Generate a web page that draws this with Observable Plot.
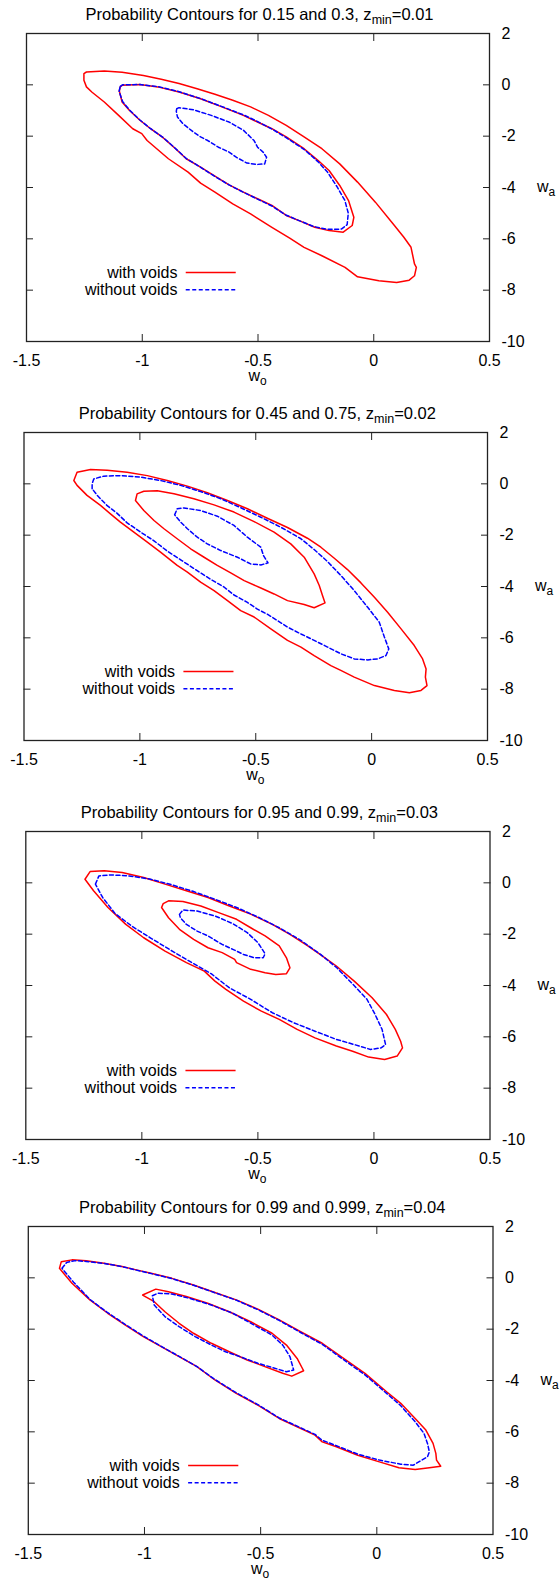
<!DOCTYPE html>
<html><head><meta charset="utf-8">
<script src="https://cdn.jsdelivr.net/npm/d3@7"></script>
<script src="https://cdn.jsdelivr.net/npm/@observablehq/plot@0.6"></script>
<style>
html,body{margin:0;padding:0;background:#fff;overflow:hidden}
#root{position:relative;width:560px;height:1581px;background:#fff}
.panel{position:absolute;left:0}
</style></head><body><div id="root"></div>
<script>
// ---------- tick values ----------
const xTicks = [-1.5, -1, -0.5, 0, 0.5];
const yTicks = [2, 0, -2, -4, -6, -8, -10];
const xInnerTicks = [-1, -0.5, 0];
const yInnerTicks = [0, -2, -4, -6, -8];

// ---------- titles ----------
const titleLevels = ["0.15 and 0.3", "0.45 and 0.75", "0.95 and 0.99", "0.99 and 0.999"];
const titleZmin = ["0.01", "0.02", "0.03", "0.04"];
const seriesNames = ["with voids", "without voids"];

// ---------- panel 1 contours (w0, wa) ----------
const p1WithOuter = [[-1.252,0.44],[-1.241,0.50],[-1.164,0.54],[-1.087,0.49],[-0.995,0.36],[-0.918,0.22],[-0.841,0.05],[-0.763,-0.15],[-0.686,-0.37],[-0.609,-0.60],[-0.532,-0.86],[-0.455,-1.19],[-0.378,-1.58],[-0.301,-2.03],[-0.224,-2.49],[-0.147,-3.08],[-0.070,-3.79],[0.007,-4.57],[0.084,-5.42],[0.130,-5.94],[0.161,-6.33],[0.176,-6.98],[0.184,-7.11],[0.176,-7.44],[0.153,-7.61],[0.099,-7.70],[0.022,-7.63],[-0.070,-7.48],[-0.124,-7.11],[-0.224,-6.66],[-0.301,-6.33],[-0.363,-5.97],[-0.440,-5.55],[-0.532,-5.03],[-0.609,-4.64],[-0.686,-4.18],[-0.748,-3.83],[-0.802,-3.40],[-0.887,-2.88],[-0.979,-2.17],[-1.002,-1.90],[-1.041,-1.71],[-1.102,-1.19],[-1.164,-0.67],[-1.218,-0.28],[-1.241,-0.08],[-1.252,0.18]];
const p1WithInner = [[-1.095,-0.08],[-1.087,-0.02],[-1.010,0.01],[-0.933,-0.08],[-0.841,-0.28],[-0.748,-0.54],[-0.656,-0.86],[-0.563,-1.19],[-0.502,-1.45],[-0.440,-1.71],[-0.378,-2.03],[-0.301,-2.49],[-0.240,-2.95],[-0.193,-3.34],[-0.147,-3.92],[-0.109,-4.51],[-0.086,-5.16],[-0.093,-5.48],[-0.132,-5.74],[-0.193,-5.68],[-0.255,-5.55],[-0.317,-5.31],[-0.378,-5.09],[-0.440,-4.70],[-0.502,-4.44],[-0.563,-4.18],[-0.625,-3.90],[-0.686,-3.56],[-0.748,-3.21],[-0.810,-2.88],[-0.856,-2.49],[-0.910,-2.06],[-0.964,-1.71],[-1.010,-1.38],[-1.056,-0.99],[-1.087,-0.67],[-1.099,-0.24]];
const p1WithoutOuter = [[-1.095,-0.06],[-1.085,0.0],[-1.01,0.01],[-0.93,-0.07],[-0.84,-0.27],[-0.75,-0.53],[-0.655,-0.85],[-0.56,-1.18],[-0.50,-1.44],[-0.44,-1.72],[-0.38,-2.05],[-0.30,-2.52],[-0.24,-3.0],[-0.20,-3.4],[-0.16,-3.95],[-0.125,-4.5],[-0.11,-5.0],[-0.115,-5.45],[-0.14,-5.62],[-0.2,-5.63],[-0.26,-5.52],[-0.32,-5.3],[-0.38,-5.07],[-0.44,-4.72],[-0.50,-4.46],[-0.56,-4.2],[-0.625,-3.9],[-0.69,-3.55],[-0.75,-3.2],[-0.81,-2.87],[-0.86,-2.45],[-0.91,-2.05],[-0.965,-1.7],[-1.01,-1.37],[-1.055,-0.98],[-1.085,-0.65],[-1.1,-0.25]];
const p1WithoutInner = [[-0.851,-0.93],[-0.841,-0.89],[-0.779,-0.97],[-0.702,-1.19],[-0.625,-1.45],[-0.563,-1.77],[-0.517,-2.17],[-0.502,-2.43],[-0.478,-2.62],[-0.463,-2.82],[-0.471,-3.08],[-0.502,-3.10],[-0.548,-3.05],[-0.594,-2.82],[-0.625,-2.62],[-0.671,-2.43],[-0.717,-2.17],[-0.748,-2.03],[-0.779,-1.84],[-0.825,-1.51],[-0.848,-1.25],[-0.853,-1.03]];

// ---------- panel 2 ----------
const p2WithOuter = [[-1.285,0.13],[-1.271,0.45],[-1.213,0.56],[-1.141,0.53],[-1.055,0.45],[-0.968,0.32],[-0.882,0.13],[-0.795,-0.09],[-0.709,-0.35],[-0.622,-0.65],[-0.536,-0.97],[-0.450,-1.34],[-0.363,-1.70],[-0.277,-2.12],[-0.219,-2.47],[-0.161,-2.90],[-0.104,-3.34],[-0.046,-3.86],[0.012,-4.42],[0.069,-5.00],[0.127,-5.65],[0.184,-6.30],[0.220,-6.82],[0.235,-7.21],[0.232,-7.53],[0.239,-7.86],[0.213,-8.05],[0.163,-8.14],[0.098,-8.05],[0.012,-7.86],[-0.075,-7.53],[-0.133,-7.27],[-0.176,-7.08],[-0.248,-6.69],[-0.305,-6.36],[-0.363,-6.10],[-0.435,-5.65],[-0.507,-5.19],[-0.565,-4.94],[-0.622,-4.55],[-0.680,-4.16],[-0.738,-3.83],[-0.795,-3.44],[-0.839,-3.18],[-0.911,-2.66],[-0.968,-2.27],[-1.026,-1.88],[-1.084,-1.49],[-1.127,-1.17],[-1.170,-0.84],[-1.228,-0.45],[-1.271,-0.06]];
const p2WithInner = [[-1.019,-0.65],[-1.012,-0.39],[-0.983,-0.29],[-0.925,-0.27],[-0.853,-0.39],[-0.767,-0.58],[-0.680,-0.82],[-0.594,-1.10],[-0.507,-1.47],[-0.421,-1.88],[-0.349,-2.34],[-0.291,-2.86],[-0.248,-3.51],[-0.226,-3.96],[-0.212,-4.35],[-0.201,-4.64],[-0.248,-4.83],[-0.291,-4.70],[-0.363,-4.55],[-0.421,-4.29],[-0.478,-4.06],[-0.550,-3.77],[-0.608,-3.47],[-0.666,-3.18],[-0.723,-2.86],[-0.781,-2.53],[-0.839,-2.14],[-0.896,-1.75],[-0.939,-1.43],[-0.983,-1.04]];
const p2WithoutOuter = [[-1.206,-0.19],[-1.206,0.0],[-1.199,0.19],[-1.156,0.30],[-1.084,0.32],[-0.997,0.26],[-0.911,0.13],[-0.824,-0.06],[-0.738,-0.30],[-0.651,-0.58],[-0.565,-0.93],[-0.478,-1.30],[-0.392,-1.69],[-0.305,-2.14],[-0.248,-2.56],[-0.190,-3.03],[-0.133,-3.57],[-0.075,-4.16],[-0.017,-4.81],[0.033,-5.39],[0.055,-5.97],[0.074,-6.43],[0.062,-6.69],[0.026,-6.82],[-0.017,-6.86],[-0.075,-6.82],[-0.133,-6.62],[-0.190,-6.36],[-0.248,-6.10],[-0.305,-5.85],[-0.363,-5.58],[-0.406,-5.33],[-0.450,-5.08],[-0.493,-4.88],[-0.536,-4.62],[-0.594,-4.33],[-0.637,-4.02],[-0.695,-3.72],[-0.767,-3.30],[-0.824,-2.96],[-0.882,-2.62],[-0.939,-2.22],[-0.997,-1.88],[-1.055,-1.52],[-1.098,-1.15],[-1.141,-0.85],[-1.184,-0.45]];
const p2WithoutInner = [[-0.850,-1.21],[-0.839,-0.97],[-0.810,-0.94],[-0.738,-1.04],[-0.666,-1.26],[-0.594,-1.62],[-0.536,-2.08],[-0.478,-2.47],[-0.467,-2.79],[-0.447,-3.08],[-0.478,-3.16],[-0.522,-3.12],[-0.579,-2.86],[-0.651,-2.60],[-0.709,-2.34],[-0.752,-2.08],[-0.795,-1.75],[-0.824,-1.49]];

// ---------- panel 3 ----------
const p3WithOuter = [[-1.245,0.14],[-1.223,0.44],[-1.162,0.47],[-1.085,0.40],[-0.992,0.21],[-0.900,-0.05],[-0.808,-0.31],[-0.715,-0.57],[-0.623,-0.90],[-0.531,-1.22],[-0.438,-1.62],[-0.362,-2.01],[-0.285,-2.46],[-0.223,-2.85],[-0.162,-3.24],[-0.085,-3.83],[-0.008,-4.48],[0.054,-5.13],[0.092,-5.71],[0.115,-6.17],[0.123,-6.43],[0.100,-6.75],[0.046,-6.88],[-0.023,-6.79],[-0.092,-6.56],[-0.162,-6.36],[-0.254,-6.04],[-0.331,-5.71],[-0.408,-5.32],[-0.485,-5.00],[-0.562,-4.61],[-0.638,-4.15],[-0.685,-3.83],[-0.731,-3.44],[-0.808,-3.11],[-0.900,-2.66],[-0.992,-2.14],[-1.069,-1.62],[-1.146,-0.96],[-1.208,-0.31]];
const p3WithInner = [[-0.915,-0.96],[-0.908,-0.81],[-0.885,-0.70],[-0.823,-0.73],[-0.746,-0.90],[-0.669,-1.16],[-0.592,-1.42],[-0.531,-1.75],[-0.469,-2.07],[-0.408,-2.46],[-0.377,-2.92],[-0.362,-3.31],[-0.377,-3.54],[-0.423,-3.57],[-0.469,-3.50],[-0.531,-3.37],[-0.592,-3.11],[-0.600,-2.98],[-0.654,-2.72],[-0.715,-2.53],[-0.777,-2.20],[-0.838,-1.81],[-0.885,-1.36]];
const p3WithoutOuter = [[-1.200,-0.05],[-1.185,0.27],[-1.131,0.31],[-1.054,0.27],[-0.962,0.14],[-0.869,-0.08],[-0.777,-0.34],[-0.685,-0.64],[-0.592,-0.96],[-0.500,-1.33],[-0.408,-1.75],[-0.315,-2.24],[-0.230,-2.79],[-0.160,-3.31],[-0.090,-3.96],[-0.030,-4.54],[0.005,-5.13],[0.035,-5.71],[0.050,-6.30],[0.031,-6.43],[-0.015,-6.49],[-0.085,-6.30],[-0.162,-6.10],[-0.254,-5.78],[-0.346,-5.45],[-0.438,-5.06],[-0.531,-4.54],[-0.623,-4.09],[-0.700,-3.55],[-0.777,-3.15],[-0.869,-2.66],[-0.962,-2.15],[-1.038,-1.72],[-1.115,-1.20],[-1.169,-0.57]];
const p3WithoutInner = [[-0.838,-1.23],[-0.823,-1.06],[-0.762,-1.10],[-0.685,-1.29],[-0.608,-1.59],[-0.546,-1.94],[-0.500,-2.33],[-0.469,-2.76],[-0.477,-2.92],[-0.515,-2.92],[-0.562,-2.79],[-0.608,-2.59],[-0.654,-2.40],[-0.715,-2.07],[-0.762,-1.88],[-0.808,-1.62],[-0.834,-1.36]];

// ---------- panel 4 ----------
const p4WithOuter = [[-1.366,0.37],[-1.358,0.63],[-1.312,0.70],[-1.251,0.67],[-1.174,0.57],[-1.097,0.44],[-1.035,0.31],[-0.958,0.15],[-0.882,-0.02],[-0.789,-0.28],[-0.697,-0.57],[-0.605,-0.86],[-0.512,-1.22],[-0.420,-1.64],[-0.328,-2.10],[-0.235,-2.55],[-0.143,-3.14],[-0.051,-3.72],[0.042,-4.44],[0.103,-4.89],[0.165,-5.48],[0.211,-5.93],[0.242,-6.45],[0.254,-6.84],[0.257,-7.10],[0.275,-7.34],[0.226,-7.40],[0.165,-7.47],[0.095,-7.40],[0.011,-7.17],[-0.082,-6.91],[-0.174,-6.58],[-0.235,-6.39],[-0.266,-6.13],[-0.343,-5.80],[-0.420,-5.48],[-0.512,-4.96],[-0.605,-4.50],[-0.697,-3.98],[-0.774,-3.46],[-0.851,-3.07],[-0.928,-2.68],[-1.005,-2.29],[-1.082,-1.84],[-1.158,-1.38],[-1.235,-0.86],[-1.312,-0.21]];
const p4WithInner = [[-1.008,-0.67],[-0.951,-0.44],[-0.897,-0.54],[-0.820,-0.73],[-0.728,-0.99],[-0.635,-1.32],[-0.543,-1.71],[-0.451,-2.16],[-0.389,-2.62],[-0.343,-3.14],[-0.315,-3.62],[-0.366,-3.83],[-0.405,-3.72],[-0.482,-3.46],[-0.558,-3.20],[-0.635,-2.88],[-0.712,-2.55],[-0.789,-2.16],[-0.851,-1.77],[-0.912,-1.32],[-0.958,-0.93]];
const p4WithoutOuter = [[-1.355,0.37],[-1.335,0.60],[-1.297,0.67],[-1.251,0.64],[-1.174,0.56],[-1.097,0.44],[-1.035,0.30],[-0.958,0.14],[-0.882,-0.03],[-0.789,-0.29],[-0.697,-0.58],[-0.605,-0.87],[-0.512,-1.24],[-0.420,-1.66],[-0.328,-2.13],[-0.235,-2.59],[-0.143,-3.19],[-0.051,-3.78],[0.042,-4.50],[0.103,-4.98],[0.165,-5.61],[0.203,-6.06],[0.218,-6.45],[0.226,-6.78],[0.218,-6.97],[0.157,-7.30],[0.103,-7.26],[0.011,-7.10],[-0.082,-6.87],[-0.174,-6.54],[-0.235,-6.33],[-0.266,-6.10],[-0.343,-5.78],[-0.420,-5.46],[-0.512,-4.94],[-0.605,-4.48],[-0.697,-3.96],[-0.774,-3.46],[-0.851,-3.06],[-0.928,-2.67],[-1.005,-2.27],[-1.082,-1.82],[-1.158,-1.36],[-1.235,-0.84],[-1.305,-0.17]];
const p4WithoutInner = [[-0.966,-0.70],[-0.943,-0.60],[-0.882,-0.63],[-0.805,-0.80],[-0.712,-1.06],[-0.620,-1.38],[-0.528,-1.84],[-0.451,-2.23],[-0.405,-2.62],[-0.374,-3.07],[-0.358,-3.59],[-0.389,-3.66],[-0.451,-3.49],[-0.512,-3.33],[-0.589,-3.07],[-0.651,-2.88],[-0.712,-2.62],[-0.782,-2.29],[-0.851,-1.90],[-0.912,-1.51],[-0.958,-1.06]];

const withVoids = [[p1WithOuter, p1WithInner], [p2WithOuter, p2WithInner], [p3WithOuter, p3WithInner], [p4WithOuter, p4WithInner]];
const withoutVoids = [[p1WithoutOuter, p1WithoutInner], [p2WithoutOuter, p2WithoutInner], [p3WithoutOuter, p3WithoutInner], [p4WithoutOuter, p4WithoutInner]];

// ---------- layout (pixels) ----------
const layout = [
  {top: 33,    left: 26,   right: 489},
  {top: 432,   left: 23.5, right: 487},
  {top: 830.5, left: 25.3, right: 489.5},
  {top: 1225.5,left: 27.8, right: 492.5}
];
const W = 560, MT = 33, FH = 308, MB = 48;
const FONT = "'Liberation Sans', Arial, Helvetica, sans-serif";
const RED = "#ff0000", BLUE = "#0000ff", FRAME = "#222";

const root = document.getElementById("root");

layout.forEach((L, i) => {
  const line = (data, color, dash) => Plot.line(data, {
    x: d => d[0], y: d => d[1], curve: "linear-closed",
    stroke: color, strokeWidth: 1.5, strokeDasharray: dash
  });
  const plot = Plot.plot({
    width: W, height: MT + FH + MB,
    marginTop: MT, marginBottom: MB, marginLeft: L.left, marginRight: W - L.right,
    style: {fontFamily: FONT, fontSize: "16px", background: "#fff", color: "#000", overflow: "visible"},
    x: {domain: [-1.5, 0.5], axis: null},
    y: {domain: [-10, 2], axis: null},
    marks: [
      Plot.axisX(xInnerTicks, {anchor: "bottom", tickSize: -7, fill: "none", label: null, stroke: FRAME}),
      Plot.axisX(xInnerTicks, {anchor: "top", tickSize: -7, fill: "none", label: null, stroke: FRAME}),
      Plot.axisY(yInnerTicks, {anchor: "left", tickSize: -7, fill: "none", label: null, stroke: FRAME}),
      Plot.axisY(yInnerTicks, {anchor: "right", tickSize: -7, fill: "none", label: null, stroke: FRAME}),
      Plot.text(xTicks, {x: d => d, frameAnchor: "bottom", dy: 19, lineAnchor: "middle", text: d => String(d), fontSize: 16, fill: "#000"}),
      Plot.text(yTicks, {y: d => d, frameAnchor: "right", dx: 12, textAnchor: "start", lineAnchor: "middle", text: d => String(d), fontSize: 16, fill: "#000"}),
      line(withVoids[i][0], RED),
      line(withVoids[i][1], RED),
      line(withoutVoids[i][0], BLUE, "4,2.5"),
      line(withoutVoids[i][1], BLUE, "4,2.5"),
      Plot.frame({stroke: FRAME, strokeWidth: 1.3})
    ]
  });

  const [x0, x1] = plot.scale("x").range;
  const [yb, yt] = plot.scale("y").range;
  const fw = x1 - x0, fh = yb - yt;
  const svg = d3.select(plot);

  // title
  const t = svg.append("text")
    .attr("x", (x0 + x1) / 2 + 2).attr("y", yt - 13.5)
    .attr("text-anchor", "middle").attr("fill", "#000")
    .style("font-family", FONT).style("font-size", "16.5px");
  t.append("tspan").text(`Probability Contours for ${titleLevels[i]}, z`);
  t.append("tspan").attr("dy", 4).style("font-size", "12.5px").text("min");
  t.append("tspan").attr("dy", -4).text(`=${titleZmin[i]}`);

  // x label w_o
  const xl = svg.append("text")
    .attr("x", (x0 + x1) / 2).attr("y", yb + 40)
    .attr("text-anchor", "middle").attr("fill", "#000")
    .style("font-family", FONT).style("font-size", "16px");
  xl.append("tspan").text("w");
  xl.append("tspan").attr("dy", 4).style("font-size", "12px").text("o");

  // y label w_a
  const yl = svg.append("text")
    .attr("x", x1 + 48).attr("y", (yt + yb) / 2 + 5)
    .attr("text-anchor", "start").attr("fill", "#000")
    .style("font-family", FONT).style("font-size", "16px");
  yl.append("tspan").text("w");
  yl.append("tspan").attr("dy", 4).style("font-size", "12px").text("a");

  // legend
  const lx = x0 + 0.327 * fw, l0 = x0 + 0.345 * fw, l1 = x0 + 0.453 * fw;
  const rows = [{y: yt + 0.778 * fh, c: RED, d: null}, {y: yt + 0.834 * fh, c: BLUE, d: "4,2.5"}];
  rows.forEach((r, k) => {
    svg.append("text").attr("x", lx).attr("y", r.y).attr("dy", "0.35em")
      .attr("text-anchor", "end").attr("fill", "#000")
      .style("font-family", FONT).style("font-size", "16px").text(seriesNames[k]);
    svg.append("line").attr("x1", l0).attr("x2", l1).attr("y1", r.y).attr("y2", r.y)
      .attr("stroke", r.c).attr("stroke-width", 1.5).attr("stroke-dasharray", r.d);
  });

  const div = document.createElement("div");
  div.className = "panel";
  div.style.top = (L.top - MT) + "px";
  div.appendChild(plot);
  root.appendChild(div);
});
</script>
</body></html>
